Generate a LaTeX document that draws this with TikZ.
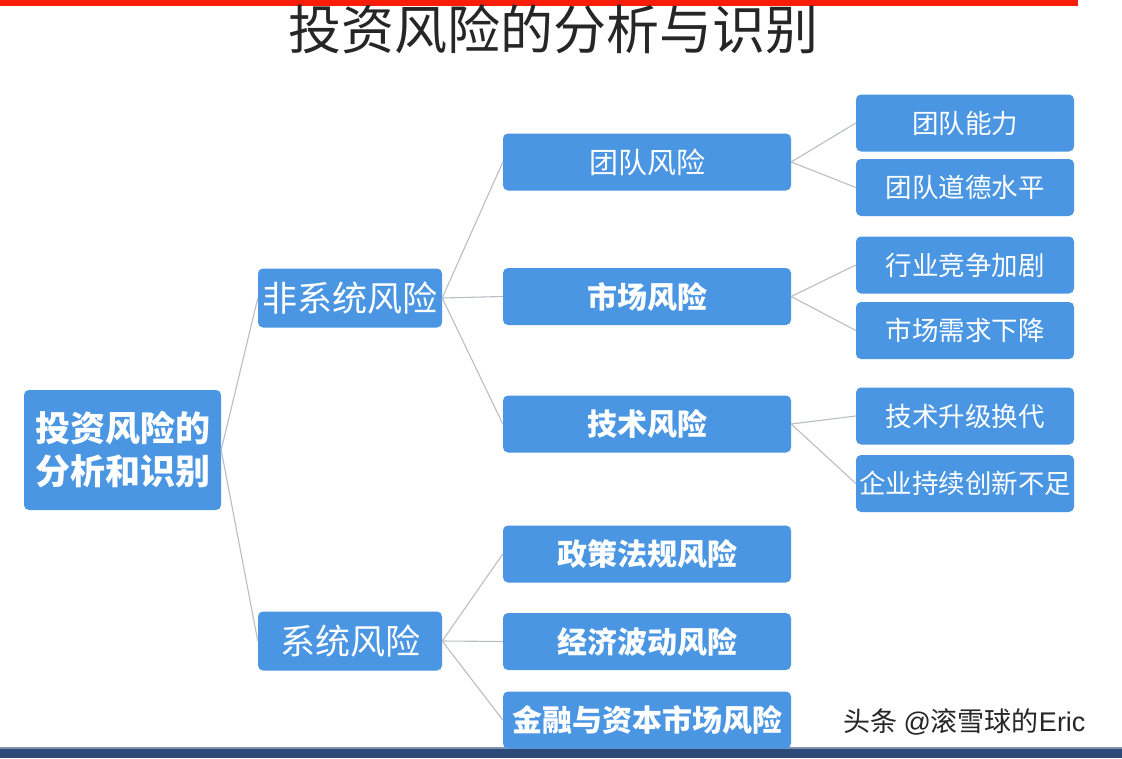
\documentclass[tikz,border=0pt]{standalone}
\usepackage{fontspec}
\setmainfont{Noto Sans CJK SC}
\newfontfamily\cjk{Noto Sans CJK SC}
\newfontfamily\latinsans{Liberation Sans}
\definecolor{boxblue}{RGB}{74,150,227}
\definecolor{linegray}{RGB}{185,190,198}
\definecolor{topred}{RGB}{250,30,10}
\definecolor{navy}{RGB}{44,74,120}
\begin{document}
\begin{tikzpicture}[x=1pt,y=-1pt,
  box/.style={fill=boxblue, rounded corners=5pt, text=white, inner sep=0pt, align=center},
  lvone/.style={box, minimum width=184pt, minimum height=59pt, font=\fontsize{35}{39}\selectfont},
  lvtwo/.style={box, minimum width=288pt, minimum height=57pt, font=\fontsize{30}{34}\selectfont\bfseries},
  leaf/.style={box, minimum width=218pt, minimum height=57pt, font=\fontsize{26.5}{30}\selectfont},
  conn/.style={draw=linegray, line width=1.1pt}]
\useasboundingbox (0,0) rectangle (1122,758);
\fill[white] (0,0) rectangle (1122,758);
\fill[topred] (0,0) rectangle (1078,6);
\fill[navy] (0,748) rectangle (1122,758);
\fill[navy!60!white] (0,747) rectangle (1122,749);
\node[font=\fontsize{53}{57}\selectfont, text=black!85] (title) at (553,29) {投资风险的分析与识别};

\node[box, minimum width=197pt, minimum height=120pt, font=\fontsize{35}{43}\selectfont\bfseries] (root) at (122.5,450) {投资风险的\\分析和识别};

\node[lvone] (nf) at (350,298) {非系统风险};
\node[lvone] (sy) at (350,641) {系统风险};

\node[lvtwo, font=\fontsize{29}{33}\selectfont] (td) at (647,162) {团队风险};
\node[lvtwo] (sc) at (647,296.5) {市场风险};
\node[lvtwo] (js) at (647,424) {技术风险};
\node[lvtwo] (zc) at (647,554) {政策法规风险};
\node[lvtwo] (jj) at (647,641.5) {经济波动风险};
\node[lvtwo] (jr) at (647,720) {金融与资本市场风险};

\node[leaf] (l1) at (965,123) {团队能力};
\node[leaf] (l2) at (965,187.5) {团队道德水平};
\node[leaf] (l3) at (965,265) {行业竞争加剧};
\node[leaf] (l4) at (965,330.5) {市场需求下降};
\node[leaf] (l5) at (965,416) {技术升级换代};
\node[leaf] (l6) at (965,483.5) {企业持续创新不足};

\node[font=\fontsize{27}{31}\selectfont, text=black!85, anchor=west] (wm) at (840,722) {头条 {\latinsans @}滚雪球的{\latinsans Eric}};

\path[conn] (root.east) -- (nf.west);
\path[conn] (root.east) -- (sy.west);
\path[conn] (nf.east) -- (td.west);
\path[conn] (nf.east) -- (sc.west);
\path[conn] (nf.east) -- (js.west);
\path[conn] (sy.east) -- (zc.west);
\path[conn] (sy.east) -- (jj.west);
\path[conn] (sy.east) -- (jr.west);
\path[conn] (td.east) -- (l1.west);
\path[conn] (td.east) -- (l2.west);
\path[conn] (sc.east) -- (l3.west);
\path[conn] (sc.east) -- (l4.west);
\path[conn] (js.east) -- (l5.west);
\path[conn] (js.east) -- (l6.west);
\end{tikzpicture}
\end{document}
